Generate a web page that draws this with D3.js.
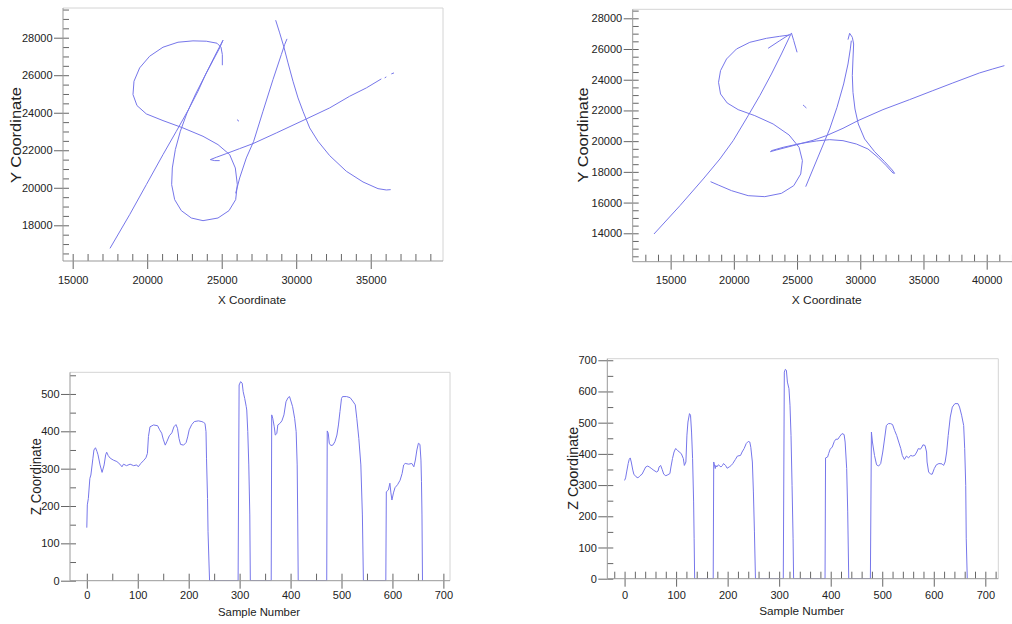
<!DOCTYPE html>
<html>
<head>
<meta charset="utf-8">
<script src="https://cdn.jsdelivr.net/npm/d3@7"></script>
<style>
body { margin: 0; background: #fff; }
svg text { font-family: "Liberation Sans", Arial, sans-serif; fill: #222; }
</style>
</head>
<body>
<svg id="chart" width="1012" height="624"></svg>
<script>
// ---- signature 1 (top left), pen strokes as [x, y]
var sig1Diag = [[25087,27866],[24527,27013],[23968,26124],[23409,25146],[22760,24150],[21955,23012],[21060,21768],[19942,20167],[18823,18567],[17503,16771]];
var sig1S = [[25042,26533],[25042,27102],[24952,27493],[24684,27706],[23968,27813],[23073,27831],[22067,27759],[21060,27493],[20165,27013],[19494,26390],[19114,25679],[19047,24968],[19315,24381],[19942,23937],[21060,23581],[22402,23190],[23745,22745],[24751,22301],[25534,21768],[25914,21056],[26049,20167],[25937,19367],[25489,18781],[24751,18389],[23745,18247],[22961,18389],[22290,18781],[21843,19367],[21642,20167],[21686,21056],[21888,22034],[22223,23012],[22671,23990],[23252,25004],[23856,25946],[24416,26782],[24863,27457],[25087,27866]];
var sig1Dot = [[26026,23634],[26090,23590],[26160,23546]];
var sig1ALeft = [[25937,19705],[26205,20523],[26652,21590],[27145,22479],[27771,24079],[28442,25768],[29001,27102],[29225,27635],[29382,27937]];
var sig1ARight = [[28621,28933],[28889,28257],[29158,27546],[29449,26657],[29784,25679],[30120,24790],[30455,24079],[30903,23190],[31462,22479],[32245,21714],[33364,20879],[34482,20310],[35489,19954],[36048,19883],[36339,19901]];
var sig1Bar = [[24863,21448],[24527,21448],[24237,21501],[24639,21625],[25310,21821],[26205,22088],[27100,22354],[28666,22923],[30679,23670],[32245,24257],[33587,24879],[34706,25323],[35712,25804]];
var sig1BarEnd1 = [[35936,25857],[36048,25910]];
var sig1BarEnd2 = [[36383,26070],[36562,26124]];

// ---- signature 2 (top right)
var sig2Diag = [[13684,13954],[15737,15799],[17579,17536],[18895,18838],[19948,20032],[21133,21661],[22054,22963],[22975,24374],[23765,25677],[24554,27045],[24738,26545],[25002,25786]];
var sig2Arrow = [[22712,26046],[23633,26545],[24423,26958]];
var sig2S = [[24423,26914],[23633,26828],[22580,26697],[21264,26437],[20211,26003],[19422,25351],[18948,24592],[18790,23832],[18948,23072],[19474,22486],[20343,22051],[21659,21661],[23107,21118],[24370,20401],[25160,19598],[25423,18730],[25291,17861],[24738,17102],[23765,16602],[22449,16385],[21133,16450],[19817,16776],[18764,17145],[18158,17362]];
var sig2Dot = [[25475,22355],[25607,22258],[25739,22160]];
var sig2ALeft = [[25686,17036],[26265,18187],[26923,19490],[27581,20792],[28160,22203],[28686,23723],[29029,25026],[29213,26003],[29292,26545]];
var sig2ARight = [[29029,26611],[29160,27023],[29371,26763],[29476,26328],[29423,25351],[29371,24266],[29423,23180],[29581,22095],[29844,21118],[30345,20141],[31134,19316],[31924,18665],[32529,18122],[32713,17905],[32582,17927],[32055,18404],[31397,18947],[30608,19490],[29687,19815],[28634,20032],[27581,20098],[26528,20011],[25212,19837],[23896,19598],[22975,19381],[22896,19316],[23370,19425],[24686,19707],[26265,20054],[27318,20358],[28634,20836],[29818,21335],[31792,22051],[33898,22703],[35740,23289],[37319,23788],[39425,24440],[40478,24700],[41399,24917]];

// ---- pen pressure (bottom left)
var zSamples1 = [0,1,3,6,8,12,14,17,20,22,26,30,34,37,39,42,46,52,59,65,69,72,78,85,92,98,101,106,111,116,119,121,124,131,139,143,147,150,154,157,162,167,171,175,178,181,184,190,195,198,201,206,211,219,226,229,232,234,235,237,238,240,241,
  297,299,302,305,307,310,313,314,316,318,320,321,
  362,363,365,368,370,373,375,379,383,387,391,395,398,400,404,408,411,413,414,415,
  471,472,474,476,479,483,487,491,494,497,500,502,510,517,522,527,530,534,538,541,543,
  587,588,592,595,597,599,602,605,610,615,619,622,625,632,638,642,645,648,651,654,656,657,658,659];
var zValues1 = [142,203,220,274,283,328,350,356,346,337,310,290,310,337,344,335,328,323,319,312,305,312,308,312,308,310,305,314,321,329,341,386,412,417,415,404,395,379,363,372,388,396,412,418,408,381,365,363,370,385,404,418,426,428,426,424,421,399,328,220,131,42,0,
  0,524,533,529,506,488,466,457,399,310,176,0,
  0,444,435,412,390,394,417,421,428,444,479,490,493,484,466,435,399,310,176,0,
  0,401,395,368,362,363,372,390,417,453,488,493,493,490,481,471,435,381,310,176,0,
  0,238,243,261,235,216,235,249,257,269,287,310,314,312,314,305,323,350,368,365,323,265,176,0];

// ---- pen pressure (bottom right)
var zSamples2 = [0,2,4,7,9,11,13,16,18,22,26,30,34,37,41,45,49,53,57,62,65,67,70,73,76,80,84,88,90,93,96,99,102,106,110,114,116,119,121,123,126,128,130,132,134,135,136,
  172,173,176,177,179,182,185,187,190,192,196,199,203,207,210,215,219,225,228,232,236,240,243,245,248,250,252,254,
  308,310,312,314,316,319,321,323,325,327,328,
  389,390,394,396,399,403,407,410,414,418,422,426,428,431,433,435,
  477,479,481,485,489,493,497,501,505,508,512,516,520,524,528,532,536,539,543,547,551,555,559,563,567,570,574,577,579,583,586,587,590,594,597,601,605,610,616,619,622,625,628,632,636,641,647,650,654,658,660,662,663,665];
var zValues2 = [315,323,342,369,382,387,374,348,335,327,323,330,335,345,358,361,357,352,347,342,345,358,363,350,335,330,333,337,358,385,406,417,413,406,401,385,363,374,460,502,529,524,470,385,246,128,0,
  0,374,353,363,358,365,361,358,363,369,363,354,358,363,369,382,393,395,406,417,433,440,438,421,374,278,150,0,
  0,662,671,668,630,609,556,459,299,128,0,
  0,387,390,401,415,422,440,447,447,457,465,462,438,353,214,0,
  0,470,438,395,365,361,369,406,454,491,497,497,494,475,459,438,417,395,382,393,387,395,393,395,406,417,415,422,429,427,406,374,342,335,335,353,365,369,368,363,374,406,459,518,550,561,561,550,524,491,417,299,128,0];

// ---- tick labels
var sig1XTicks = [15000, 20000, 25000, 30000, 35000];
var sig1YTicks = [18000, 20000, 22000, 24000, 26000, 28000];
var sig2XTicks = [15000, 20000, 25000, 30000, 35000, 40000];
var sig2YTicks = [14000, 16000, 18000, 20000, 22000, 24000, 26000, 28000];
var z1XTicks = [0, 100, 200, 300, 400, 500, 600, 700];
var z1YTicks = [0, 100, 200, 300, 400, 500];
var z2XTicks = [0, 100, 200, 300, 400, 500, 600, 700];
var z2YTicks = [0, 100, 200, 300, 400, 500, 600, 700];

var svg = d3.select('#chart');
var lineColor = '#7676ea';

function panel(o) {
   var x = d3.scaleLinear().domain(o.xDomain).range([o.left, o.right]);
   var y = d3.scaleLinear().domain(o.yDomain).range([o.bottom, o.top]);
   var g = svg.append('g');

   g.append('clipPath').attr('id', 'clip' + o.id)
      .append('rect')
      .attr('x', o.left).attr('y', o.top)
      .attr('width', o.right - o.left).attr('height', o.bottom - o.top);

   // light frame on top and right
   g.append('path')
      .attr('d', 'M' + o.left + ',' + o.top + 'H' + o.right + 'V' + o.bottom)
      .attr('fill', 'none').attr('stroke', '#d4d4d4');

   var line = d3.line()
      .x(function(d) { return x(d[0]); })
      .y(function(d) { return y(d[1]); });

   var plot = g.append('g').attr('clip-path', 'url(#clip' + o.id + ')');
   o.series.forEach(function(s) {
      plot.append('path')
         .attr('d', line(s))
         .attr('fill', 'none')
         .attr('stroke', lineColor)
         .attr('stroke-width', 1);
   });

   // x axis: short inner ticks for all, longer outer ticks + labels for major
   g.append('g')
      .attr('transform', 'translate(0,' + o.bottom + ')')
      .call(d3.axisTop(x).tickValues(o.xMinor).tickSize(7).tickFormat(''));
   g.append('g')
      .attr('transform', 'translate(0,' + o.bottom + ')')
      .call(d3.axisBottom(x).tickValues(o.xMajor).tickSize(8).tickPadding(o.xPad).tickFormat(d3.format('d')));

   // y axis
   g.append('g')
      .attr('transform', 'translate(' + o.left + ',0)')
      .call(d3.axisRight(y).tickValues(o.yMinor).tickSize(6).tickFormat(''));
   g.append('g')
      .attr('transform', 'translate(' + o.left + ',0)')
      .call(d3.axisLeft(y).tickValues(o.yMajor).tickSize(9).tickPadding(1.5).tickFormat(d3.format('d')));

   g.selectAll('.domain').remove();
   g.selectAll('.tick line').attr('stroke', '#666');
   g.selectAll('.tick text')
      .attr('font-family', null)
      .style('font-size', '11px');

   // axis lines
   g.append('path')
      .attr('d', 'M' + o.left + ',' + o.top + 'V' + o.bottom + 'H' + o.right)
      .attr('fill', 'none').attr('stroke', '#999');

   g.append('text')
      .attr('x', o.xTitlePos[0]).attr('y', o.xTitlePos[1])
      .attr('text-anchor', 'middle')
      .attr('textLength', o.xTitleLen).attr('lengthAdjust', 'spacingAndGlyphs')
      .style('font-size', o.xTitleSize + 'px')
      .text(o.xTitle);

   g.append('text')
      .attr('transform', 'translate(' + o.yTitlePos[0] + ',' + o.yTitlePos[1] + ') rotate(-90)')
      .attr('text-anchor', 'middle')
      .attr('textLength', o.yTitleLen).attr('lengthAdjust', 'spacingAndGlyphs')
      .style('font-size', o.yTitleSize + 'px')
      .text(o.yTitle);
}

panel({
   id: 1, left: 63, right: 443, top: 8, bottom: 261,
   xDomain: [14350, 39850], yDomain: [16097, 29583],
   xMajor: sig1XTicks, xMinor: d3.range(15000, 39001, 1000),
   yMajor: sig1YTicks, yMinor: d3.range(16500, 29501, 500),
   xPad: 7.5,
   series: [sig1Diag, sig1S, sig1Dot, sig1ALeft, sig1ARight, sig1Bar, sig1BarEnd1, sig1BarEnd2],
   xTitle: 'X Coordinate', xTitlePos: [252, 303.5], xTitleSize: 11.6, xTitleLen: 68,
   yTitle: 'Y Coordinate', yTitlePos: [20.5, 135], yTitleSize: 14.5, yTitleLen: 96
});

panel({
   id: 2, left: 632.7, right: 1014, top: 9.3, bottom: 261.7,
   xDomain: [12000, 42160], yDomain: [12150, 28586],
   xMajor: sig2XTicks, xMinor: d3.range(13000, 42001, 1000),
   yMajor: sig2YTicks, yMinor: d3.range(12500, 28501, 500),
   xPad: 6.5,
   series: [sig2Diag, sig2Arrow, sig2S, sig2Dot, sig2ALeft, sig2ARight],
   xTitle: 'X Coordinate', xTitlePos: [826.7, 303.5], xTitleSize: 11.6, xTitleLen: 70,
   yTitle: 'Y Coordinate', yTitlePos: [588.3, 135], yTitleSize: 15, yTitleLen: 95
});

panel({
   id: 3, left: 70, right: 450, top: 372.3, bottom: 580.7,
   xDomain: [-33, 713], yDomain: [0, 558],
   xMajor: z1XTicks, xMinor: d3.range(0, 701, 50),
   yMajor: z1YTicks, yMinor: d3.range(0, 551, 50),
   xPad: 3,
   series: [d3.zip(zSamples1, zValues1)],
   xTitle: 'Sample Number', xTitlePos: [259, 615.5], xTitleSize: 11.3, xTitleLen: 82,
   yTitle: 'Z Coordinate', yTitlePos: [40.7, 476.7], yTitleSize: 14, yTitleLen: 77
});

panel({
   id: 4, left: 607.3, right: 998.3, top: 358.7, bottom: 578.7,
   xDomain: [-33.5, 725.2], yDomain: [0, 705],
   xMajor: z2XTicks, xMinor: d3.range(-20, 721, 20),
   yMajor: z2YTicks, yMinor: d3.range(0, 701, 50),
   xPad: 5,
   series: [d3.zip(zSamples2, zValues2)],
   xTitle: 'Sample Number', xTitlePos: [801.7, 615], xTitleSize: 11.7, xTitleLen: 85,
   yTitle: 'Z Coordinate', yTitlePos: [577.5, 468.3], yTitleSize: 14.5, yTitleLen: 83
});
</script>
</body>
</html>
